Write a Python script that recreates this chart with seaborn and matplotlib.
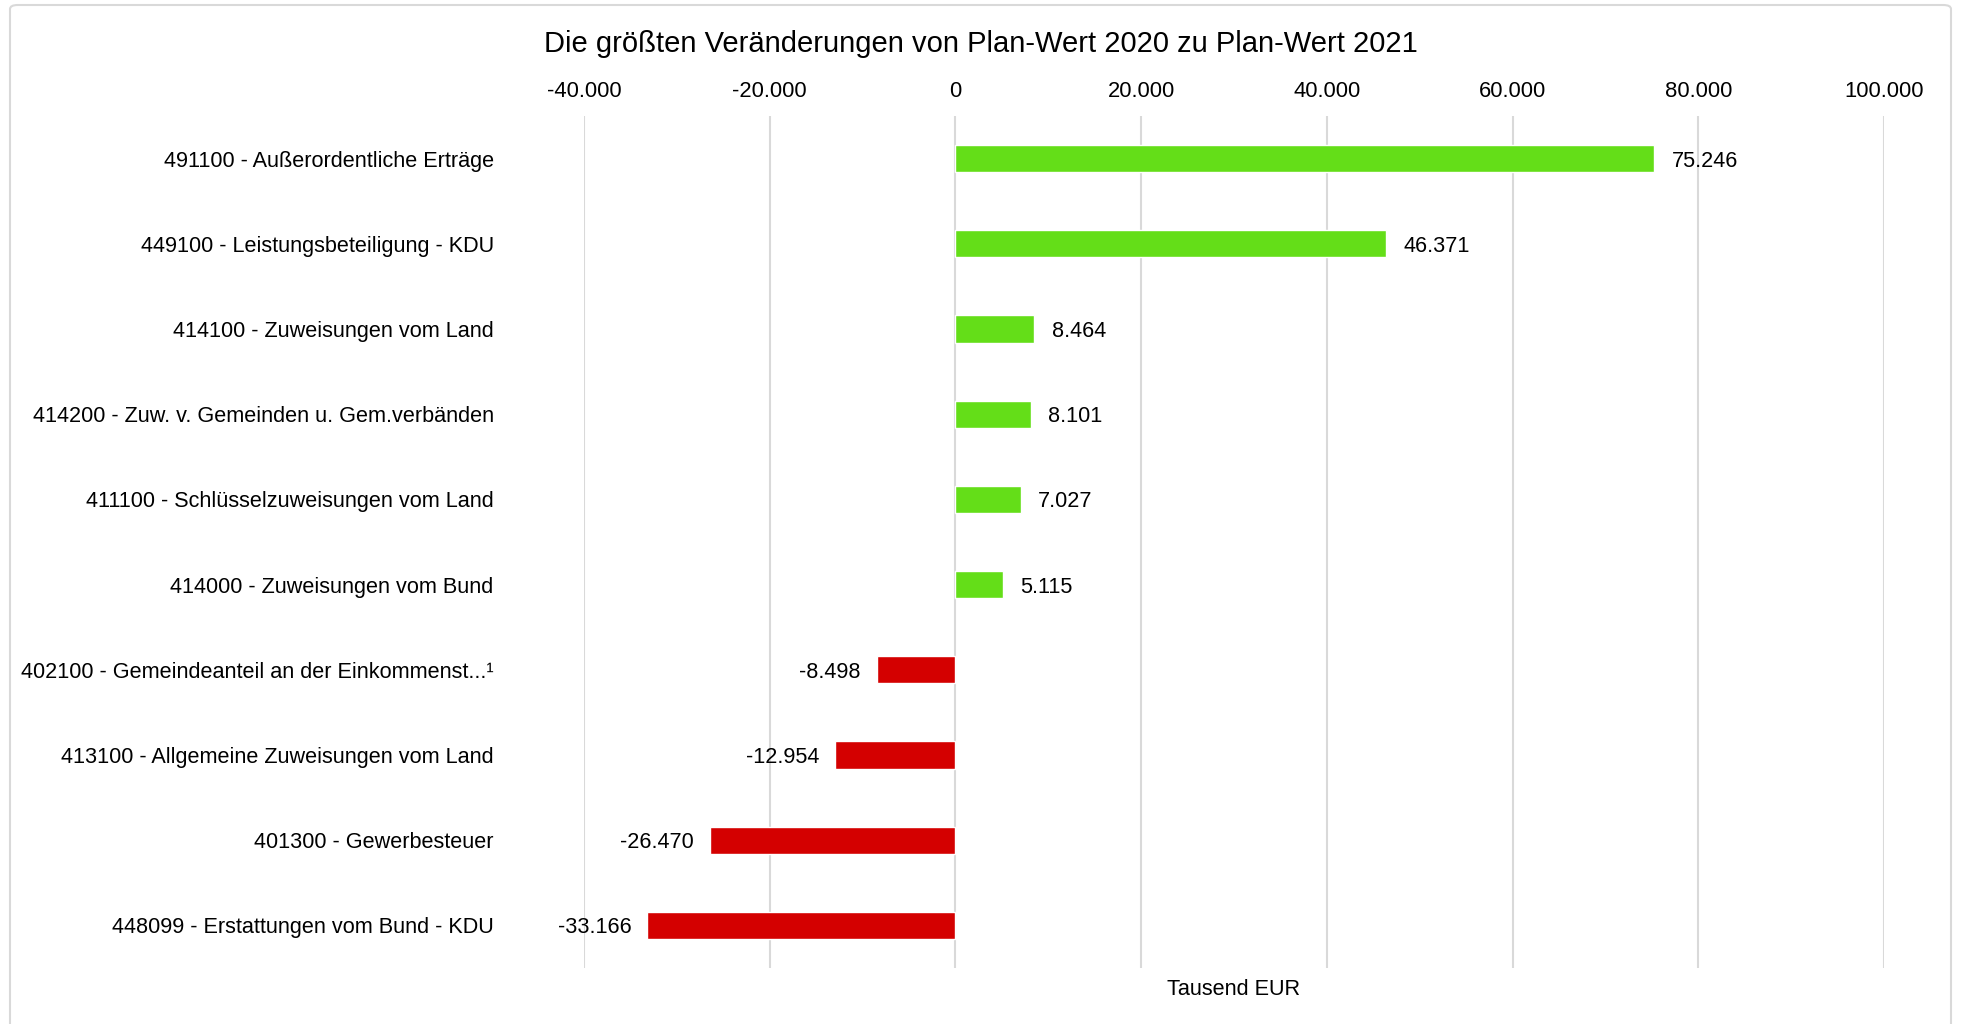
import matplotlib
matplotlib.use("Agg")
import matplotlib.pyplot as plt
from matplotlib.patches import FancyBboxPatch
import seaborn as sns
import pandas as pd

categories = [
    "491100 - Außerordentliche Erträge",
    "449100 - Leistungsbeteiligung - KDU",
    "414100 - Zuweisungen vom Land",
    "414200 - Zuw. v. Gemeinden u. Gem.verbänden",
    "411100 - Schlüsselzuweisungen vom Land",
    "414000 - Zuweisungen vom Bund",
    "402100 - Gemeindeanteil an der Einkommenst...¹",
    "413100 - Allgemeine Zuweisungen vom Land",
    "401300 - Gewerbesteuer",
    "448099 - Erstattungen vom Bund - KDU",
]
changes = [75246, 46371, 8464, 8101, 7027, 5115, -8498, -12954, -26470, -33166]
x_ticks = [-40000, -20000, 0, 20000, 40000, 60000, 80000, 100000]

title = "Die größten Veränderungen von Plan-Wert 2020 zu Plan-Wert 2021"
x_label = "Tausend EUR"

GREEN = "#64DE18"
RED = "#D40000"
GRID = "#D9D9D9"


def de_format(v):
    return f"{v:,}".replace(",", ".")


df = pd.DataFrame({
    "Konto": categories,
    "Veränderung": changes,
    "Richtung": ["plus" if v >= 0 else "minus" for v in changes],
})

sns.set_theme(style="white")
plt.rcParams["font.family"] = ["Liberation Sans", "DejaVu Sans"]

fig = plt.figure(figsize=(19.61, 10.24), dpi=100)
ax = fig.add_axes([584 / 1961, 1 - 968 / 1024, 1300 / 1961, 852 / 1024])

# light frame around the whole chart area
frame = FancyBboxPatch((10 / 1961, -0.05), 1941 / 1961, 1.05 - 5 / 1024,
                       boxstyle="round,pad=0,rounding_size=0.004",
                       transform=fig.transFigure, fill=False,
                       edgecolor=GRID, linewidth=1.5, zorder=0)
fig.patches.append(frame)

sns.barplot(data=df, x="Veränderung", y="Konto", hue="Richtung",
            palette={"plus": GREEN, "minus": RED}, order=categories,
            orient="h", dodge=False, width=0.32, legend=False,
            saturation=1, ax=ax, zorder=3)

ax.set_xlim(-40000, 100000)
ax.set_ylim(len(categories) - 0.5, -0.5)
ax.set_xticks(x_ticks)
ax.set_xticklabels([de_format(t) if t != 0 else "0" for t in x_ticks])
ax.xaxis.tick_top()
ax.tick_params(axis="x", length=0, pad=10, labelsize=15.8, colors="black")
ax.tick_params(axis="y", length=0, pad=65, labelsize=15.6, colors="black")
for lbl in ax.get_yticklabels():
    lbl.set_horizontalalignment("right")

ax.grid(axis="x", color=GRID, linewidth=1.5, zorder=0)
ax.grid(axis="y", visible=False)
ax.set_axisbelow(True)
for s in ax.spines.values():
    s.set_visible(False)

ax.set_ylabel("")
ax.set_xlabel(x_label, fontsize=15.6, color="black", labelpad=8)
ax.xaxis.set_label_position("bottom")

for i, v in enumerate(changes):
    offset = 1900 if v >= 0 else -1700
    ax.text(v + offset, i + 0.03, de_format(v), fontsize=15.6,
            ha="left" if v >= 0 else "right", va="center", color="black")

fig.text(0.5, 1 - 44 / 1024, title, ha="center", va="center",
         fontsize=21, color="black")

fig.savefig("out.png", dpi=100)
